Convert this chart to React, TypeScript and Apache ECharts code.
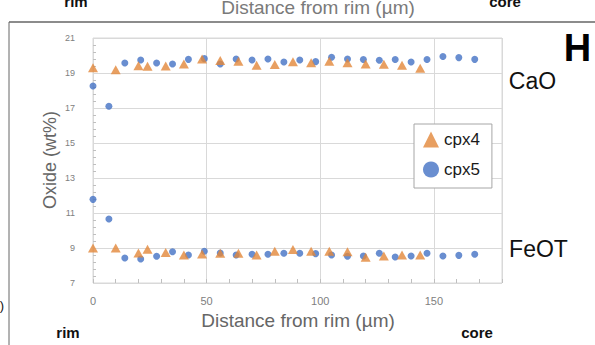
import React, { useEffect, useRef } from "react";
import * as echarts from "echarts";

// Distances (µm) and oxide contents (wt%)
const cpx5Distance = [0, 7, 14, 21, 28, 35, 42, 49, 56, 63, 70, 77, 84, 91, 98, 105, 112, 119, 126, 133, 140, 147, 154, 161, 168];
const cpx5CaO = [18.26, 17.1, 19.57, 19.74, 19.57, 19.51, 19.78, 19.82, 19.51, 19.8, 19.74, 19.8, 19.63, 19.74, 19.65, 19.9, 19.8, 19.77, 19.73, 19.77, 19.63, 19.77, 19.94, 19.88, 19.78];
const cpx5FeOT = [11.78, 10.66, 8.43, 8.37, 8.53, 8.79, 8.6, 8.81, 8.71, 8.6, 8.64, 8.64, 8.7, 8.7, 8.68, 8.6, 8.53, 8.54, 8.7, 8.49, 8.54, 8.7, 8.54, 8.58, 8.64];

const cpx4Distance = [0, 10, 20, 24, 32, 40, 48, 56, 64, 72, 80, 88, 96, 104, 112, 120, 128, 136, 144];
const cpx4CaO = [19.3, 19.19, 19.42, 19.38, 19.4, 19.51, 19.8, 19.71, 19.67, 19.44, 19.48, 19.65, 19.59, 19.67, 19.59, 19.51, 19.5, 19.44, 19.27];
const cpx4FeOT = [9.0, 9.0, 8.71, 8.93, 8.75, 8.6, 8.66, 8.7, 8.7, 8.6, 8.81, 8.91, 8.81, 8.81, 8.79, 8.47, 8.54, 8.6, 8.6];

const legendNames = ["cpx4", "cpx5"];
const xAxisTitle = "Distance from rim (µm)";
const yAxisTitle = "Oxide (wt%)";

const FONT = "'Liberation Sans', Arial, sans-serif";
const BLUE = "#4472C4";
const ORANGE = "#E2873A";

const pairs = (xs: number[], ys: number[]) => xs.map((x, i) => [x, ys[i]]);

const txt = (
  text: string,
  x: number,
  y: number,
  fontSize: number,
  fill: string,
  fontWeight: string = "normal",
  extra: any = {}
) => ({
  type: "text",
  x,
  y,
  silent: true,
  ...extra,
  style: {
    text,
    fontSize,
    fontWeight,
    fontFamily: FONT,
    fill,
    align: "center",
    verticalAlign: "middle",
  },
});

export default function App() {
  const ref = useRef<HTMLDivElement>(null);

  useEffect(() => {
    const chart = echarts.init(ref.current!, null, { renderer: "svg" });
    chart.setOption({
      animation: false,
      backgroundColor: "#ffffff",
      grid: {
        left: 93,
        top: 38,
        width: 409,
        height: 245,
        show: true,
        borderColor: "#d9d9d9",
        borderWidth: 1,
        backgroundColor: "#ffffff",
      },
      xAxis: [
        {
          type: "value",
          min: 0,
          max: 180,
          interval: 50,
          axisLine: { show: false },
          axisTick: { show: false },
          splitLine: { show: true, lineStyle: { color: "#d9d9d9", width: 1 } },
          axisLabel: {
            fontSize: 11,
            color: "#808080",
            margin: 12,
            fontFamily: FONT,
            showMaxLabel: false,
            formatter: (v: number) => (v >= 180 ? "" : String(v)),
          },
        },
        {
          type: "value",
          min: 0,
          max: 180,
          interval: 10,
          position: "bottom",
          axisLine: { show: false },
          axisTick: { show: true, inside: true, length: 4, lineStyle: { color: "#bfbfbf" } },
          axisLabel: { show: false },
          splitLine: { show: false },
        },
      ],
      yAxis: {
        type: "value",
        min: 7,
        max: 21,
        interval: 2,
        axisLine: { show: false },
        axisTick: { show: false, inside: true },
        minorTick: { show: true, splitNumber: 5, length: 3, lineStyle: { color: "#bfbfbf" } },
        splitLine: { show: true, lineStyle: { color: "#d9d9d9", width: 1 } },
        axisLabel: { fontSize: 9, color: "#808080", margin: 18, fontFamily: FONT },
      },
      legend: {
        data: [
          { name: legendNames[0], icon: "triangle" },
          { name: legendNames[1], icon: "circle" },
        ],
        orient: "vertical",
        left: 414,
        top: 124,
        padding: [7, 12, 10, 9],
        itemGap: 13,
        itemWidth: 16,
        itemHeight: 16,
        backgroundColor: "#ffffff",
        borderColor: "#a6a6a6",
        borderWidth: 1,
        textStyle: { fontSize: 17, color: "#1a1a1a", fontFamily: FONT },
      },
      series: [
        {
          name: legendNames[1],
          type: "scatter",
          symbol: "circle",
          symbolSize: 7,
          itemStyle: { color: BLUE },
          data: pairs(cpx5Distance, cpx5CaO),
        },
        {
          name: legendNames[1],
          type: "scatter",
          symbol: "circle",
          symbolSize: 7,
          itemStyle: { color: BLUE },
          data: pairs(cpx5Distance, cpx5FeOT),
        },
        {
          name: legendNames[0],
          type: "scatter",
          symbol: "triangle",
          symbolSize: [10, 9],
          itemStyle: { color: ORANGE },
          data: pairs(cpx4Distance, cpx4CaO),
        },
        {
          name: legendNames[0],
          type: "scatter",
          symbol: "triangle",
          symbolSize: [10, 9],
          itemStyle: { color: ORANGE },
          data: pairs(cpx4Distance, cpx4FeOT),
        },
      ],
      graphic: [
        {
          type: "line",
          silent: true,
          shape: { x1: 9, y1: 22, x2: 595, y2: 22 },
          style: { stroke: "#666666", lineWidth: 1.5 },
        },
        {
          type: "line",
          silent: true,
          shape: { x1: 9, y1: 22, x2: 9, y2: 345 },
          style: { stroke: "#666666", lineWidth: 1 },
        },
        txt("rim", 76, 1, 15, "#111111", "bold"),
        txt(xAxisTitle, 318, 7.5, 19, "#7a7a7a"),
        txt("core", 505, 1, 15, "#111111", "bold"),
        txt(")", 2, 305, 13, "#111111"),
        txt(yAxisTitle, 49.5, 160, 18, "#666666", "normal", { rotation: Math.PI / 2 }),
        txt(xAxisTitle, 298, 320, 19, "#666666"),
        txt("rim", 68, 332.5, 15, "#111111", "bold"),
        txt("core", 477, 332, 15, "#111111", "bold"),
        txt("H", 577.5, 48, 38, "#000000", "bold"),
        txt("CaO", 532.5, 80.5, 23, "#111111"),
        txt("FeOT", 538.5, 248.5, 23, "#111111"),
      ],
    });
    return () => chart.dispose();
  }, []);

  return (
    <div
      ref={ref}
      style={{ position: "fixed", left: 0, top: 0, width: 595, height: 345, background: "#fff" }}
    />
  );
}
